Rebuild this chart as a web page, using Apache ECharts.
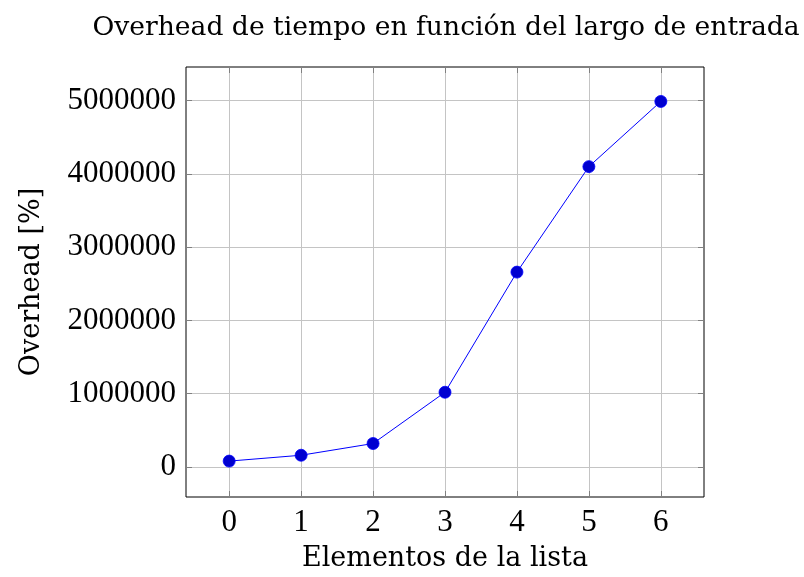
<!DOCTYPE html>
<html><head><meta charset="utf-8">
<script src="https://cdn.jsdelivr.net/npm/echarts@6/dist/echarts.min.js"></script>
<style>html,body{margin:0;padding:0;background:#fff}#c{width:804px;height:577px}</style>
</head><body><div id="c"></div>
<script>
const titleText = 'Overhead de tiempo en función del largo de entrada';
const xName = 'Elementos de la lista';
const yName = 'Overhead [%]';
const xValues = [0, 1, 2, 3, 4, 5, 6];
const overhead = [80000, 160000, 320000, 1020000, 2660000, 4100000, 4990000];
const xTicks = [0, 1, 2, 3, 4, 5, 6];
const yTicks = [0, 1000000, 2000000, 3000000, 4000000, 5000000];

const FN = 'Liberation Serif';
const FT = 'DejaVu Serif';
const chart = echarts.init(document.getElementById('c'), null, {renderer: 'canvas'});
const tickStyle = vals => ({show: true, inside: true, length: 6, customValues: vals, lineStyle: {color: '#808080', width: 1}});
const gridStyle = {show: true, lineStyle: {color: '#c4c4c4', width: 1}};
const noLine = {show: false, onZero: false};
const plain = v => String(v);
chart.setOption({
  animation: false,
  backgroundColor: '#fff',
  title: {text: titleText, left: 441, top: 10, textAlign: 'center',
    textStyle: {fontFamily: FT, fontSize: 26.6, fontWeight: 'normal', color: '#000'}},
  grid: {left: 186, right: 100, top: 67, bottom: 80, show: true, borderColor: '#000', borderWidth: 1},
  xAxis: [{
    type: 'value', min: -0.6, max: 6.6,
    name: xName, nameLocation: 'middle', nameGap: 48,
    nameTextStyle: {fontFamily: FT, fontSize: 27, color: '#000'},
    axisLine: noLine, axisTick: tickStyle(xTicks), splitLine: gridStyle,
    axisLabel: {customValues: xTicks, formatter: plain, fontFamily: FN, fontSize: 31, color: '#000', margin: 10}
  }, {
    type: 'value', position: 'top', min: -0.6, max: 6.6,
    axisLine: noLine, axisTick: tickStyle(xTicks), splitLine: {show: false},
    axisLabel: {show: false, customValues: xTicks}
  }],
  yAxis: [{
    type: 'value', min: -410000, max: 5460000,
    name: yName, nameLocation: 'middle', nameGap: 141, nameRotate: 90,
    nameTextStyle: {fontFamily: FT, fontSize: 27, color: '#000'},
    axisLine: noLine, axisTick: tickStyle(yTicks), splitLine: gridStyle,
    axisLabel: {customValues: yTicks, formatter: plain, fontFamily: FN, fontSize: 31, color: '#000', margin: 10}
  }, {
    type: 'value', position: 'right', min: -410000, max: 5460000,
    axisLine: noLine, axisTick: tickStyle(yTicks), splitLine: {show: false},
    axisLabel: {show: false, customValues: yTicks}
  }],
  series: [{
    type: 'line',
    data: xValues.map((x, i) => [x, overhead[i]]),
    symbol: 'circle', symbolSize: 12,
    lineStyle: {color: '#0000ff', width: 1},
    itemStyle: {color: '#0000d0', borderColor: '#0000ff', borderWidth: 0.8}
  }]
});
</script></body></html>
